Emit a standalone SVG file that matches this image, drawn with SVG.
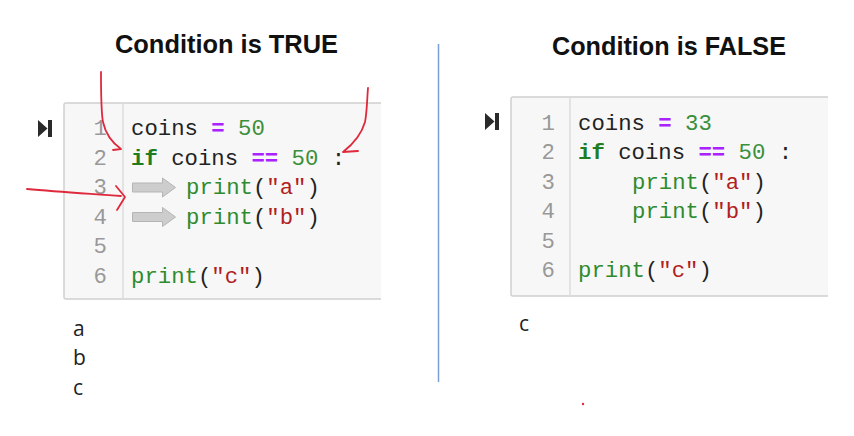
<svg xmlns="http://www.w3.org/2000/svg" width="854" height="436" viewBox="0 0 854 436">
<style>
.title{font-family:"Liberation Sans",Arial,sans-serif;font-weight:bold;font-size:26px;fill:#111}
.code{font-family:"Liberation Mono","DejaVu Sans Mono",monospace;font-size:22.3px;fill:#222;white-space:pre}
.ln{font-family:"Liberation Mono","DejaVu Sans Mono",monospace;font-size:22.3px;fill:#999;text-anchor:end}
.kw{fill:#1f7d1f;font-weight:bold}
.num{fill:#3a8f3a}
.op{fill:#aa22ff;font-weight:bold}
.fn{fill:#2e8b2e}
.str{fill:#b02020}
.out{font-family:"Open Sans","Liberation Sans",Arial,sans-serif;font-size:21px;fill:#222}
.box{fill:#f7f7f7;stroke:#d0d0d0;stroke-width:1.5}
.gut{stroke:#dcdcdc;stroke-width:1.5}
.red{fill:none;stroke:#e0283c;stroke-width:1.8;stroke-linecap:round;stroke-linejoin:round}
.garrow{fill:#cdcdcd;stroke:#b5b5b5;stroke-width:1}
</style>
<defs>
<path id="play" d="M0,0 L9.5,8.5 L0,17 Z M10,0 H14 V17 H10 Z" fill="#2a2a2a"/>
<path id="garr" d="M0,-4.5 H30 V-9.5 L43,0 L30,9.5 V4.5 H0 Z"/>
</defs>

<text class="title" x="115" y="53" textLength="223" lengthAdjust="spacingAndGlyphs">Condition is TRUE</text>
<text class="title" x="552" y="55" textLength="234" lengthAdjust="spacingAndGlyphs">Condition is FALSE</text>

<line x1="438.5" y1="44" x2="438.5" y2="382" stroke="#7a9fd6" stroke-width="1.5"/>

<g id="left-panel">
<use href="#play" x="38" y="120"/>
<path class="box" d="M381,103 H66 Q64,103 64,105 V297 Q64,299 66,299 H381"/>
<line class="gut" x1="123" y1="103" x2="123" y2="299"/>
<text class="ln" x="107" y="135">1</text>
<text class="ln" x="107" y="164.5">2</text>
<text class="ln" x="107" y="194">3</text>
<text class="ln" x="107" y="223.5">4</text>
<text class="ln" x="107" y="253">5</text>
<text class="ln" x="107" y="282.5">6</text>
<text class="code" x="131" y="135">coins <tspan class="op">=</tspan> <tspan class="num">50</tspan></text>
<text class="code" x="131" y="164.5"><tspan class="kw">if</tspan> coins <tspan class="op">==</tspan> <tspan class="num">50</tspan> :</text>
<text class="code" x="186" y="194"><tspan class="fn">print</tspan>(<tspan class="str">"a"</tspan>)</text>
<text class="code" x="186" y="223.5"><tspan class="fn">print</tspan>(<tspan class="str">"b"</tspan>)</text>
<text class="code" x="131" y="282.5"><tspan class="fn">print</tspan>(<tspan class="str">"c"</tspan>)</text>
<use href="#garr" class="garrow" x="132.5" y="187.5"/>
<use href="#garr" class="garrow" x="132.5" y="217"/>
</g>

<g id="left-output">
<text class="out" x="73" y="336">a</text>
<text class="out" x="73" y="365">b</text>
<text class="out" x="73" y="395">c</text>
</g>

<g id="right-panel">
<use href="#play" x="485" y="113"/>
<path class="box" d="M828,97 H513 Q511,97 511,99 V294 Q511,296 513,296 H828"/>
<line class="gut" x1="570" y1="97" x2="570" y2="296"/>
<text class="ln" x="555" y="130">1</text>
<text class="ln" x="555" y="159.4">2</text>
<text class="ln" x="555" y="188.8">3</text>
<text class="ln" x="555" y="218.2">4</text>
<text class="ln" x="555" y="247.6">5</text>
<text class="ln" x="555" y="277">6</text>
<text class="code" x="578" y="130">coins <tspan class="op">=</tspan> <tspan class="num">33</tspan></text>
<text class="code" x="578" y="159.4"><tspan class="kw">if</tspan> coins <tspan class="op">==</tspan> <tspan class="num">50</tspan> :</text>
<text class="code" x="632" y="188.8"><tspan class="fn">print</tspan>(<tspan class="str">"a"</tspan>)</text>
<text class="code" x="632" y="218.2"><tspan class="fn">print</tspan>(<tspan class="str">"b"</tspan>)</text>
<text class="code" x="578" y="277"><tspan class="fn">print</tspan>(<tspan class="str">"c"</tspan>)</text>
</g>

<g id="right-output">
<text class="out" x="519" y="331">c</text>
</g>

<g id="connectors">
<path class="red" d="M101,72 C101,95 101,112 103,122 C106,136 114,144 121,149 M113,150 L121,149"/>
<path class="red" d="M368,88 C367,100 367,112 365,122 C361,136 352,145 343,152 M343,152 L358,151"/>
<path class="red" d="M27,189 C60,192 95,194 121,196 M116,186 L125,197 L117,210"/>
<circle cx="583" cy="404" r="1.2" fill="#e0283c"/>
</g>
</svg>
